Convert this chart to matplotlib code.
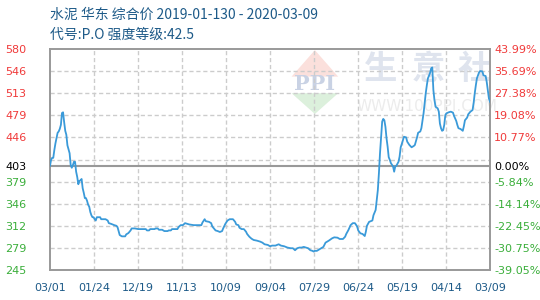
import matplotlib
matplotlib.use("Agg")
import matplotlib.pyplot as plt
from matplotlib.patches import Polygon
import numpy as np

plt.rcParams['font.family'] = ['Noto Sans CJK SC', 'DejaVu Sans']

title_line1 = "水泥 华东 综合价 2019-01-130 - 2020-03-09"
title_line2 = "代号:P.O 强度等级:42.5"

# day offset from the start of the period, and price
days = [0, 1, 2, 3, 4, 5, 6, 7, 8, 9, 10, 11, 12, 13, 14, 15, 16, 17, 18, 19,
        20, 21, 22, 23, 24, 25, 26, 27, 28, 29, 30, 31, 32, 33, 34, 35, 36, 37,
        38, 39, 40, 41, 42, 43, 46, 47, 51, 53, 54, 56, 59, 61, 62, 64, 66, 69,
        70, 72, 74, 75, 78, 81, 88, 89, 91, 92, 96, 97, 99, 100, 103, 105, 108,
        109, 111, 112, 117, 118, 120, 122, 124, 128, 132, 139, 140, 142, 143,
        146, 148, 149, 151, 152, 154, 156, 158, 159, 161, 163, 165, 168, 170,
        171, 173, 174, 176, 178, 180, 181, 183, 185, 187, 190, 193, 195, 197,
        200, 202, 204, 207, 210, 212, 215, 218, 221, 223, 225, 227, 229, 231,
        233, 235, 237, 239, 241, 242, 243, 245, 248, 251, 253, 256, 259, 261,
        264, 266, 269, 271, 272, 274, 276, 278, 280, 282, 283, 285, 287, 289,
        290, 291, 293, 296, 297, 299, 300, 301, 302, 303, 304, 305, 306, 307,
        308, 309, 310, 311, 312, 313, 315, 316, 317, 318, 320, 321, 322, 323,
        325, 327, 328, 330, 332, 334, 335, 337, 338, 340, 341, 342, 343, 344,
        345, 346, 347, 348, 349, 350, 351, 352, 353, 354, 356, 357, 358, 359,
        360, 361, 362, 363, 364, 366, 368, 370, 371, 373, 374, 375, 377, 379,
        380, 381, 383, 384, 386, 388, 389, 390, 391, 392, 394, 395, 397, 398,
        400, 401, 402, 403, 404]
prices = [403, 412, 415, 415, 427, 437, 445, 453, 455, 459, 465, 483, 484, 469,
          456, 450, 434, 428, 422, 404, 400, 404, 409, 409, 394, 386, 375, 380,
          381, 383, 369, 362, 354, 354, 350, 344, 341, 333, 328, 325, 325, 322,
          320, 325, 325, 322, 322, 320, 316, 315, 313, 312, 310, 298, 296, 296,
          299, 301, 305, 308, 308, 307, 307, 305, 305, 307, 307, 308, 308, 306,
          306, 304, 304, 305, 305, 307, 307, 310, 313, 313, 316, 314, 313, 313,
          317, 322, 319, 318, 316, 311, 307, 305, 304, 302.6, 304, 308, 315,
          320, 322, 322, 318, 314, 313, 309, 307, 307, 303, 299.6, 295.5, 292.5,
          290.5, 289.5, 288, 286.5, 284, 283, 281, 282, 282, 284, 282, 281, 279,
          278, 278, 275, 278, 279, 279, 280, 279, 278, 275, 274, 273, 274, 274,
          277, 280, 286.5, 289.5, 293, 294.5, 294, 292, 292, 295.5, 299.6,
          305.6, 313, 316, 316, 311, 305, 300.6, 299.6, 296.5, 303, 312, 318,
          320, 328, 336, 351, 366, 391.6, 422, 447, 470, 474, 472, 462, 444.6,
          432, 416, 412, 407, 402, 394, 402, 403, 409, 417, 431, 436, 447, 446,
          439.5, 434.5, 431, 433, 434.5, 446, 453, 455, 460, 471, 482.5, 497.7,
          513, 525, 535.6, 539.5, 544, 550.7, 552, 518, 502.6, 492.5, 490, 485,
          467, 460, 456, 457, 465, 480, 482.5, 484, 485, 483.6, 478.5, 471, 465,
          460, 458.7, 456, 463, 472, 476, 481, 485, 487.5, 498.6, 513, 525,
          535.6, 544.7, 546.6, 546, 540, 539, 530, 518, 505, 500]

x_labels = ["03/01", "01/24", "12/19", "11/13", "10/09", "09/04", "07/29",
            "06/24", "05/19", "04/14", "03/09"]
base_price = 403
y_min, y_max = 245, 580
left_ticks = [245, 278.5, 312, 345.5, 379, 403, 446, 479.5, 513, 546.5, 580]
left_labels = ["245", "279", "312", "346", "379", "403", "446", "479", "513",
               "546", "580"]
right_labels = ["-39.05%", "-30.75%", "-22.45%", "-14.14%", "-5.84%", "0.00%",
                "10.77%", "19.08%", "27.38%", "35.69%", "43.99%"]

RED = '#f03a3a'
GREEN = '#3aae3a'
BLUE_TXT = '#1d5a88'

fig = plt.figure(figsize=(5.4, 3.0), dpi=100)
ax = fig.add_axes([50/540, 30/300, 440/540, 221/300])

x_max = days[-1]
ax.set_xlim(0, x_max)
ax.set_ylim(y_min, y_max)

# grid
for gy in np.linspace(y_min, y_max, 11)[1:-1]:
    ax.axhline(gy, color='#cccccc', lw=1.0, ls=(0, (3, 2)), zorder=1)
xt = np.linspace(0, x_max, 11)
for gx in xt[1:-1]:
    ax.axvline(gx, color='#cccccc', lw=1.0, ls=(0, (3, 2)), zorder=1)
ax.axhline(base_price, color='#999999', lw=1.5, zorder=2)

# watermark
tr = ax.transAxes
ax.add_patch(Polygon([(0.602, 0.995), (0.549, 0.875), (0.655, 0.875)],
                     closed=True, transform=tr, facecolor='#fbe0dc',
                     edgecolor='none', zorder=0.5))
ax.add_patch(Polygon([(0.549, 0.800), (0.655, 0.800), (0.602, 0.706)],
                     closed=True, transform=tr, facecolor='#dcf0dc',
                     edgecolor='none', zorder=0.5))
ax.text(0.602, 0.84, "PPI", transform=tr, ha='center', va='center',
        fontsize=15, color='#c9d2e4', family='DejaVu Serif', fontweight='bold',
        zorder=0.6)
for cx, ch in zip([0.752, 0.859, 0.964], ["生", "意", "社"]):
    ax.text(cx, 0.905, ch, transform=tr, ha='center', va='center',
            fontsize=24, color='#dfe4ee', fontweight='bold', zorder=0.6)
ax.text(0.857, 0.742, "WWW.100PPI.COM", transform=tr, ha='center', va='center',
        fontsize=11, color='#ececec', family='DejaVu Sans', zorder=0.6)

ax.plot(days, prices, color='#3a9ad9', lw=1.3, zorder=3)

for s in ax.spines.values():
    s.set_color('#999999')
    s.set_linewidth(1.4)

ax.set_xticks(xt)
ax.set_xticklabels(x_labels, fontsize=8, color=BLUE_TXT, family='DejaVu Sans')
ax.tick_params(axis='x', length=0, pad=9)

ax.set_yticks(left_ticks)
ax.set_yticklabels(left_labels, fontsize=8, family='DejaVu Sans')
ax.tick_params(axis='y', length=0, pad=32)
for lab, v in zip(ax.get_yticklabels(), left_ticks):
    lab.set_horizontalalignment('left')
    lab.set_color('black' if v == base_price else (RED if v > base_price else GREEN))

ax2 = ax.twinx()
ax2.set_ylim(y_min, y_max)
ax2.set_yticks(left_ticks)
ax2.set_yticklabels(right_labels, fontsize=8, family='DejaVu Sans')
ax2.tick_params(axis='y', length=0, pad=3)
for lab, v in zip(ax2.get_yticklabels(), left_ticks):
    lab.set_color('black' if v == base_price else (RED if v > base_price else GREEN))
for s in ax2.spines.values():
    s.set_visible(False)

fig.text(50/540, 1 - 15/300, title_line1, fontsize=10, color=BLUE_TXT,
         ha='left', va='center')
fig.text(50/540, 1 - 35/300, title_line2, fontsize=10, color=BLUE_TXT,
         ha='left', va='center')

fig.savefig("out.png", dpi=100, facecolor='white')
